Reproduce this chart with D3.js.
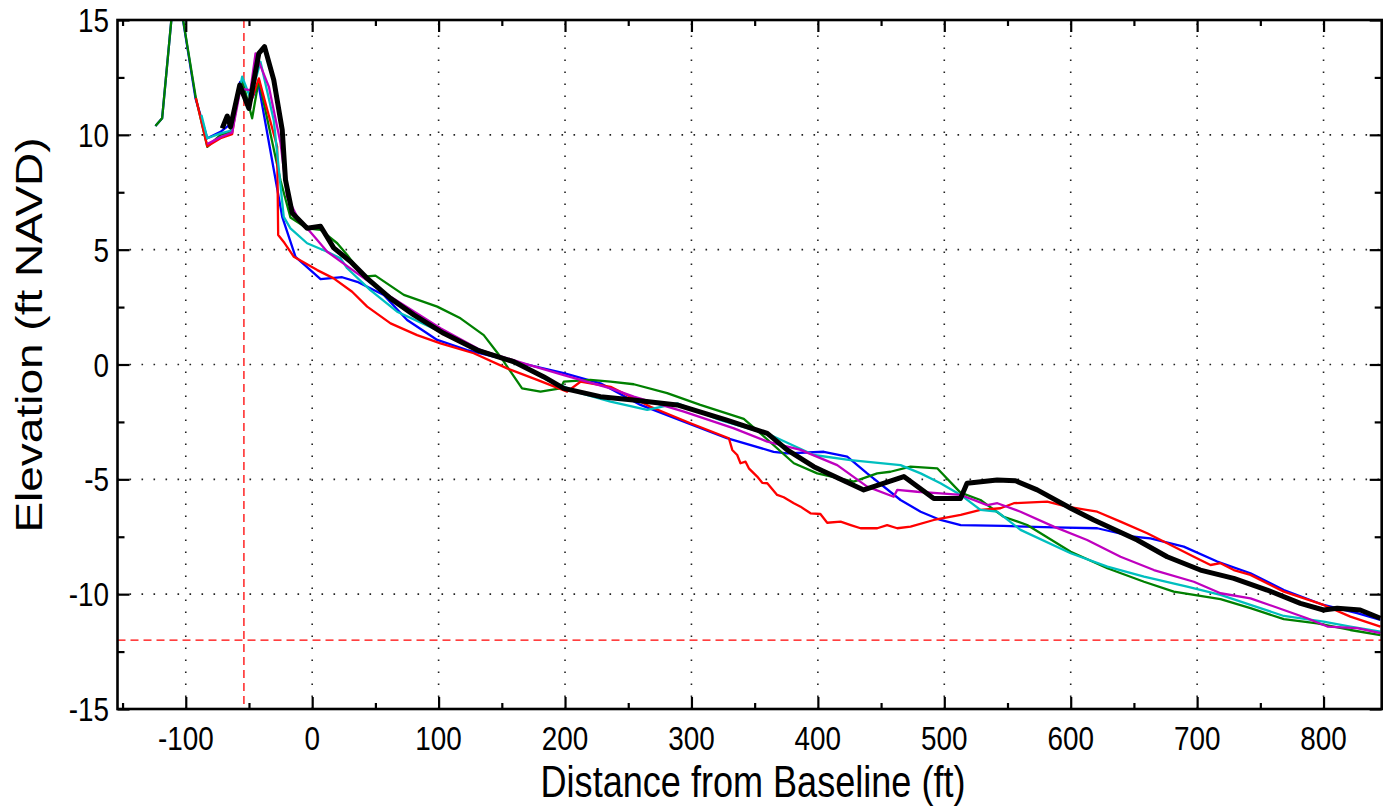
<!DOCTYPE html>
<html><head><meta charset="utf-8">
<script src="https://cdn.jsdelivr.net/npm/d3@7"></script>
<style>body{margin:0;background:#fff}svg{display:block}</style>
</head><body>
<svg id="c" width="1390" height="811"></svg>
<script>
// ---- data (distance ft, elevation ft NAVD) ----
const xTicks = [-100,0,100,200,300,400,500,600,700,800];
const xMinorTicks = [-150,-50,50,150,250,350,450,550,650,750];
const yTicks = [-15,-10,-5,0,5,10,15];
const yMinorTicks = [-12.5,-7.5,-2.5,2.5,7.5,12.5];
const refElevation = -12;
const refDistance = -54;

const profileBlue = [[-124,10.38],[-118.7,10.72],[-108,17],[-92.3,11.59],[-83,9.85],[-72.5,10.13],[-64,10.5],[-57,12.3],[-50,11.3],[-42.5,12.2],[-23.7,6.43],[-13.2,4.69],[6.6,3.72],[23.7,3.8],[35.6,3.6],[56.6,3.03],[75.1,1.94],[98.9,1.07],[122.6,0.63],[154.2,0.2],[199,-0.38],[228,-0.82],[259.7,-1.76],[294,-2.49],[328,-3.21],[365,-3.80],[375.7,-3.87],[404.7,-3.80],[423.2,-4.01],[439,-4.74],[465.4,-5.9],[481.3,-6.41],[497,-6.77],[513,-6.99],[547,-7.03],[586.6,-7.09],[621,-7.13],[650,-7.50],[663,-7.57],[689.4,-7.93],[715.9,-8.58],[742.2,-9.09],[768.6,-9.82],[800,-10.47],[826.6,-10.83],[845,-11.12]];

const profileGreen = [[-124,10.38],[-118.7,10.72],[-108,17],[-92,11.6],[-83,9.48],[-72.5,10.0],[-64.6,10.13],[-55.4,12.4],[-47.5,10.72],[-42.2,12.4],[-25,8.0],[-17.2,6.4],[-4,5.93],[6.6,5.86],[19.8,5.28],[27.7,4.77],[40.8,3.82],[50,3.87],[72.5,3.03],[98.9,2.52],[117.3,2.01],[135.7,1.28],[148.9,0.34],[166,-1.04],[180.6,-1.18],[196.4,-1.04],[199,-0.75],[220,-0.67],[236,-0.75],[254.4,-0.86],[280.8,-1.25],[307,-1.76],[341.4,-2.37],[354.6,-3.0],[381,-4.30],[399.5,-4.74],[428.4,-5.10],[446.9,-4.74],[457.4,-4.67],[473.3,-4.45],[494.4,-4.52],[512.8,-5.58],[528.6,-5.90],[547,-6.63],[565.6,-6.99],[600,-8.15],[629,-8.87],[658,-9.46],[681.5,-9.89],[718.5,-10.22],[742.2,-10.61],[768.6,-11.09],[795,-11.27],[821.2,-11.56],[845,-11.78]];

const profileRed = [[-92,11.6],[-83,9.5],[-72.5,9.85],[-63.3,10.03],[-58,12.02],[-50,11.2],[-42.2,12.46],[-27.7,9.48],[-26.9,5.64],[-22,5.3],[-14.5,4.69],[4,4.11],[17,3.75],[31.6,3.17],[43.5,2.52],[62,1.79],[83,1.28],[101.5,0.92],[127.8,0.49],[154.2,-0.17],[178,-0.67],[201.7,-1.18],[212.2,-0.75],[236,-0.97],[267.6,-1.84],[299.2,-2.56],[329.6,-3.21],[332.3,-3.72],[336.2,-3.94],[338.8,-4.30],[342.8,-4.23],[345.4,-4.52],[352,-4.88],[356,-5.15],[360,-5.17],[367.8,-5.68],[373,-5.78],[381,-6.04],[386.3,-6.19],[394.2,-6.48],[402,-6.51],[407.4,-6.89],[418,-6.84],[426,-6.99],[433.8,-7.13],[447,-7.13],[454.8,-6.99],[462.8,-7.13],[473.3,-7.06],[491.7,-6.77],[513,-6.55],[528.6,-6.33],[544.4,-6.26],[555,-6.04],[581.4,-5.97],[597.2,-6.19],[621,-6.41],[639.4,-6.84],[660.5,-7.35],[676.3,-7.78],[697.4,-8.37],[710.6,-8.73],[718.5,-8.65],[729,-8.95],[742.2,-9.16],[768.6,-9.89],[800,-10.47],[821.2,-10.98],[845,-11.41]];

const profileCyan = [[-87.6,10.86],[-83,9.85],[-72.5,10.06],[-63.3,10.2],[-55.4,12.53],[-48.8,11.59],[-40.9,13.18],[-30.4,10.64],[-22.5,6.43],[-17.2,5.93],[-4,5.28],[11.9,4.91],[22.4,4.62],[27.7,4.19],[46,3.24],[67.2,2.30],[101.5,1.43],[133,0.63],[159.5,0.12],[185.9,-0.67],[212.2,-1.25],[236,-1.62],[265,-1.98],[288.7,-1.69],[323,-2.42],[362.5,-3.07],[396.8,-3.94],[425.8,-4.16],[465.4,-4.38],[481.3,-4.74],[497,-5.17],[513,-5.68],[528.6,-6.33],[541.8,-6.41],[560.3,-7.2],[600,-8.22],[629,-8.80],[658,-9.24],[692.1,-9.67],[718.5,-10.03],[742.2,-10.47],[768.6,-10.95],[800,-11.2],[821.2,-11.41],[845,-11.63]];

const profileMagenta = [[-83,9.6],[-72.5,9.9],[-63.3,10.1],[-56.7,12.0],[-48.8,11.95],[-44.8,13.55],[-34.3,12.1],[-25,9.63],[-19.8,7.3],[-11.9,6.43],[1.3,5.6],[11.9,4.91],[35.6,3.97],[62,2.95],[101.5,1.58],[133,0.63],[167.4,0.05],[199,-0.46],[236,-1.04],[254.4,-1.40],[294,-2.05],[333.6,-2.78],[360,-3.36],[386.3,-3.72],[415.3,-4.38],[439,-5.32],[460,-5.76],[462.8,-5.46],[478.6,-5.54],[497,-5.61],[513,-5.68],[534,-6.12],[542,-6.04],[560.3,-6.41],[586.6,-7.06],[613,-7.64],[639.4,-8.37],[665.8,-8.95],[697.4,-9.46],[718.5,-9.96],[742.2,-10.18],[768.6,-10.69],[787,-11.05],[803,-11.41],[826.6,-11.48],[845,-11.7]];

const profileBlack = [[-71.2,10.28],[-67.2,10.82],[-64.6,10.35],[-57.3,12.17],[-50.1,11.15],[-42.2,13.55],[-37.7,13.84],[-30.4,12.39],[-23.7,10.21],[-21.1,8.03],[-15.8,6.6],[-4,5.93],[6.6,6.02],[17,5.08],[30.3,4.48],[43.5,3.75],[61.9,2.88],[80.4,2.16],[104,1.36],[130.5,0.63],[159.5,0.12],[183,-0.53],[199,-1.04],[228,-1.40],[254,-1.55],[288.7,-1.76],[328,-2.42],[360,-3.0],[375.7,-3.72],[396.8,-4.45],[436.3,-5.46],[468,-4.88],[491.7,-5.83],[512.8,-5.83],[518,-5.17],[541.8,-5.03],[556.3,-5.06],[573.5,-5.46],[600,-6.26],[618.3,-6.77],[652.6,-7.64],[676.3,-8.37],[702.6,-8.95],[729,-9.31],[755.4,-9.82],[781.7,-10.4],[800,-10.69],[810.8,-10.61],[829,-10.69],[845,-11.05]];

// ---- layout ----
const L = 117.5, R = 1381.7, T = 20, B = 709;
const FONT = '"Liberation Sans", Arial, Helvetica, sans-serif';
const SX = 0.82;

const svg = d3.select('#c');
const x = d3.scaleLinear().domain([-154, 846]).range([L, R]);
const y = d3.scaleLinear().domain([-15, 15]).range([B, T]);

svg.append('defs').append('clipPath').attr('id','plot')
  .append('rect').attr('x',L).attr('y',T).attr('width',R-L).attr('height',B-T);

// grid
const grid = svg.append('g').attr('stroke','#222').attr('stroke-width',1.6)
  .attr('stroke-dasharray','1.6,10.4');
grid.selectAll('.gx').data(xTicks).join('line')
  .attr('x1',d=>x(d)).attr('x2',d=>x(d)).attr('y1',B).attr('y2',T);
grid.selectAll('.gy').data(yTicks.filter(v=>v>-15&&v<15)).join('line')
  .attr('y1',d=>y(d)).attr('y2',d=>y(d)).attr('x1',L).attr('x2',R);

// reference lines
const ref = svg.append('g').attr('stroke','#ff0000').attr('stroke-width',1.3)
  .attr('stroke-dasharray','8,5');
ref.append('line').attr('x1',L).attr('x2',R).attr('y1',y(refElevation)).attr('y2',y(refElevation));
ref.append('line').attr('x1',x(refDistance)).attr('x2',x(refDistance)).attr('y1',T).attr('y2',B);

// profiles
const line = d3.line().x(d=>x(d[0])).y(d=>y(d[1]));
const series = [
  {data: profileBlue, color:'#0000ff', w:2.3},
  {data: profileGreen, color:'#008000', w:2.3},
  {data: profileRed, color:'#ff0000', w:2.3},
  {data: profileCyan, color:'#00bfbf', w:2.3},
  {data: profileMagenta, color:'#bf00bf', w:2.3},
  {data: profileBlack, color:'#000000', w:5}
];
const lg = svg.append('g').attr('clip-path','url(#plot)');
series.forEach(s=>{
  lg.append('path').attr('d',line(s.data)).attr('fill','none')
    .attr('stroke',s.color).attr('stroke-width',s.w).attr('stroke-linejoin','round');
});

// axes (ticks inward)
function styleAxis(g){ g.select('.domain').remove(); g.selectAll('text').remove();
  g.selectAll('line').attr('stroke','#000').attr('stroke-width',2.2); }
const xm = xMinorTicks.filter(v=>v>-154&&v<846);
svg.append('g').attr('transform',`translate(0,${B})`)
  .call(d3.axisBottom(x).tickValues(xTicks).tickSize(-12)).call(styleAxis);
svg.append('g').attr('transform',`translate(0,${B})`)
  .call(d3.axisBottom(x).tickValues(xm).tickSize(-6)).call(styleAxis);
svg.append('g').attr('transform',`translate(0,${T})`)
  .call(d3.axisTop(x).tickValues(xTicks).tickSize(-12)).call(styleAxis);
svg.append('g').attr('transform',`translate(0,${T})`)
  .call(d3.axisTop(x).tickValues(xm).tickSize(-6)).call(styleAxis);
svg.append('g').attr('transform',`translate(${L},0)`)
  .call(d3.axisLeft(y).tickValues(yTicks).tickSize(-12)).call(styleAxis);
svg.append('g').attr('transform',`translate(${L},0)`)
  .call(d3.axisLeft(y).tickValues(yMinorTicks).tickSize(-7)).call(styleAxis);
svg.append('g').attr('transform',`translate(${R},0)`)
  .call(d3.axisRight(y).tickValues(yTicks).tickSize(-12)).call(styleAxis);
svg.append('g').attr('transform',`translate(${R},0)`)
  .call(d3.axisRight(y).tickValues(yMinorTicks).tickSize(-7)).call(styleAxis);

// frame
svg.append('rect').attr('x',L).attr('y',T).attr('width',R-L).attr('height',B-T)
  .attr('fill','none').attr('stroke','#000').attr('stroke-width',2.6);

// tick labels
svg.append('g').selectAll('text').data(xTicks).join('text')
  .attr('transform',d=>`translate(${x(d)},750) scale(${SX},1)`)
  .attr('text-anchor','middle').attr('font-family',FONT).attr('font-size',34)
  .text(d=>d);
svg.append('g').selectAll('text').data(yTicks).join('text')
  .attr('transform',d=>`translate(109,${y(d)+12}) scale(${SX},1)`)
  .attr('text-anchor','end').attr('font-family',FONT).attr('font-size',34)
  .text(d=>d);

// axis titles
svg.append('text').attr('transform',`translate(753,797) scale(${SX},1)`)
  .attr('text-anchor','middle').attr('font-family',FONT).attr('font-size',44)
  .text('Distance from Baseline (ft)');
svg.append('text').attr('transform',`translate(42,335) scale(${SX},1) rotate(-90)`)
  .attr('text-anchor','middle').attr('font-family',FONT).attr('font-size',46)
  .text('Elevation (ft NAVD)');
</script>
</body></html>
